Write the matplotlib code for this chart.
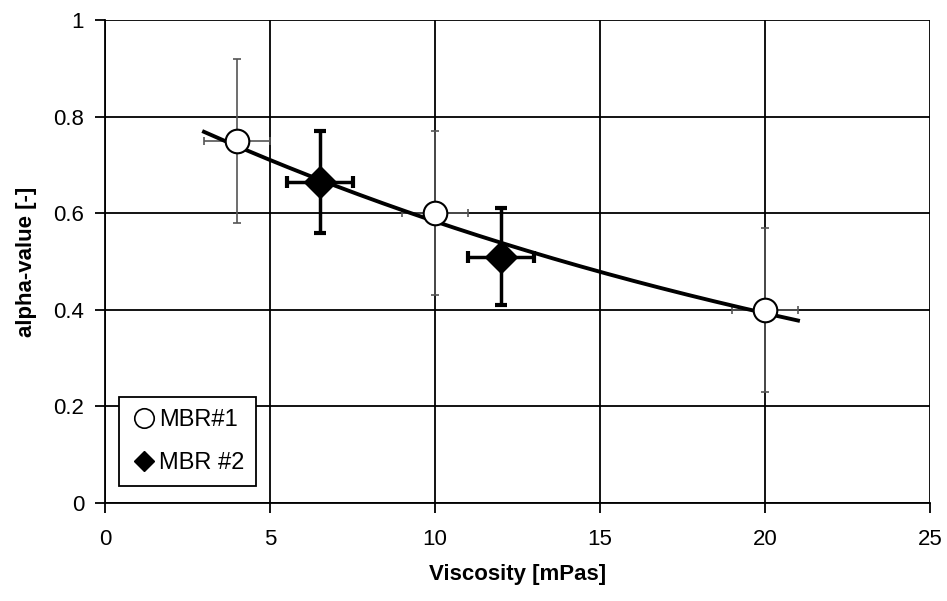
import numpy as np
import matplotlib
matplotlib.use("Agg")
import matplotlib.pyplot as plt
from matplotlib.lines import Line2D

# Data
mbr1_x = [4, 10, 20]
mbr1_y = [0.75, 0.60, 0.40]
mbr1_yerr = [0.17, 0.17, 0.17]
mbr1_xerr = [1.0, 1.0, 1.0]

mbr2_x = [6.5, 12]
mbr2_y = [0.665, 0.51]
mbr2_yerr = [0.105, 0.10]
mbr2_xerr = [1.0, 1.0]

trend_range = [3, 21]

x_ticks = [0, 5, 10, 15, 20, 25]
y_ticks = [0, 0.2, 0.4, 0.6, 0.8, 1]
y_tick_labels = ["0", "0.2", "0.4", "0.6", "0.8", "1"]

plt.rcParams['font.family'] = ['Liberation Sans', 'DejaVu Sans']

fig = plt.figure(figsize=(9.47, 6.01), dpi=100)
ax = fig.add_axes([105/947, 1-503/601, 825/947, 483/601])

ax.set_xlim(0, 25)
ax.set_ylim(0, 1)
ax.set_xticks(x_ticks)
ax.set_yticks(y_ticks)
ax.set_yticklabels(y_tick_labels)
ax.grid(True, color='black', linewidth=1.3)
ax.set_axisbelow(True)
for s in ['top', 'right']:
    ax.spines[s].set_visible(False)
for s in ['left', 'bottom']:
    ax.spines[s].set_linewidth(1.3)
ax.tick_params(direction='out', length=7, width=1.3, labelsize=16)
ax.tick_params(axis='y', pad=8)
ax.tick_params(axis='x', pad=12)

# trend line: exponential fit on all points
all_x = np.array(mbr1_x + mbr2_x, dtype=float)
all_y = np.array(mbr1_y + mbr2_y, dtype=float)
b, lna = np.polyfit(all_x, np.log(all_y), 1)
xt = np.linspace(trend_range[0], trend_range[1], 200)
ax.plot(xt, np.exp(lna) * np.exp(b * xt), color='black', linewidth=2.8, zorder=3)

# MBR#1 error bars (thin, dotted-grey look)
ax.errorbar(mbr1_x, mbr1_y, yerr=mbr1_yerr, xerr=mbr1_xerr, fmt='none',
            ecolor='#555555', elinewidth=1.2, capsize=3, capthick=1.2,
            linestyle=':', zorder=2)
ax.plot(mbr1_x, mbr1_y, 'o', markersize=17, markerfacecolor='white',
        markeredgecolor='black', markeredgewidth=1.5, linestyle='none', zorder=4)

# MBR#2 error bars (bold)
ax.errorbar(mbr2_x, mbr2_y, yerr=mbr2_yerr, xerr=mbr2_xerr, fmt='none',
            ecolor='black', elinewidth=2.5, capsize=4, capthick=3, zorder=4)
ax.plot(mbr2_x, mbr2_y, 'D', markersize=16, markerfacecolor='black',
        markeredgecolor='black', linestyle='none', zorder=5)

ax.set_xlabel("Viscosity [mPas]", fontsize=16, fontweight='bold', labelpad=10)
ax.set_ylabel("alpha-value [-]", fontsize=16, fontweight='bold', labelpad=12)

handles = [
    Line2D([], [], marker='o', color='black', markerfacecolor='white',
           markersize=14, linestyle='none', markeredgewidth=1.2, label='MBR#1'),
    Line2D([], [], marker='D', color='black', markerfacecolor='black',
           markersize=10, linestyle='none', label='MBR #2'),
]
leg = ax.legend(handles=handles, loc='lower left', bbox_to_anchor=(0.017, 0.035),
                fontsize=17, frameon=True, fancybox=False, edgecolor='black',
                handletextpad=0.1, handlelength=1.1, borderpad=0.5,
                borderaxespad=0, labelspacing=0.9, framealpha=1)
leg.get_frame().set_linewidth(1.3)

fig.savefig("out.png", dpi=100)
